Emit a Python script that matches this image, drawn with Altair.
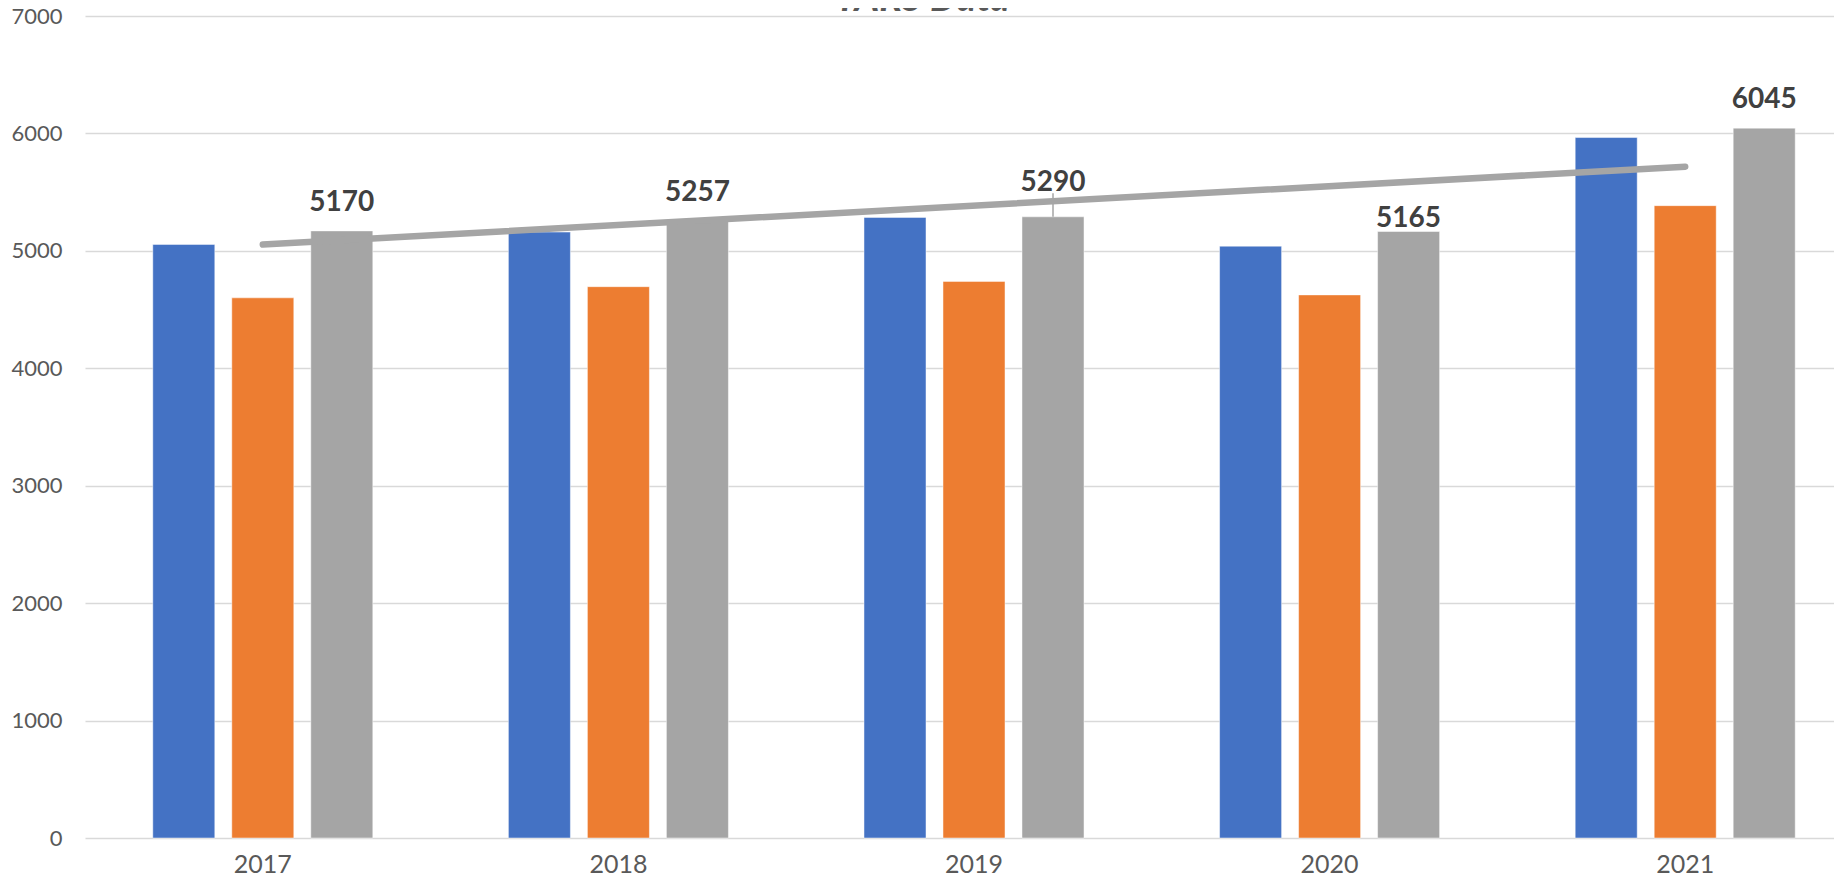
import altair as alt
import pandas as pd

years = ["2017", "2018", "2019", "2020", "2021"]
series_names = ["Series1", "Series2", "Series3"]
series1 = [5055, 5160, 5285, 5040, 5965]
series2 = [4600, 4695, 4740, 4625, 5385]
series3 = [5170, 5257, 5290, 5165, 6045]
colors = ["#4472C4", "#ED7D31", "#A5A5A5"]
y_ticks = [0, 1000, 2000, 3000, 4000, 5000, 6000, 7000]
title_text = "YARS Data"

rows = []
for s, vals in zip(series_names, [series1, series2, series3]):
    for y, v in zip(years, vals):
        rows.append({"year": y, "yr": int(y), "series": s, "value": v})
df = pd.DataFrame(rows)

FONT = "Lato"
W, H = 1749, 822

xscale = alt.Scale(domain=years, range=[0, 1778], paddingInner=0.3335, paddingOuter=0.16675)
xoff_scale = alt.Scale(domain=series_names, paddingInner=0.215, paddingOuter=0.1075)
yscale = alt.Scale(domain=[0, 7000], nice=False, zero=True)

base = alt.Chart(df)

bars = base.mark_bar(stroke="white", strokeWidth=0.8, strokeOpacity=0.6).encode(
    x=alt.X("year:N", scale=xscale, sort=years,
            axis=alt.Axis(title=None, domain=False, ticks=False, grid=False,
                          labelFont=FONT, labelFontSize=25, labelColor="#595959",
                          labelAngle=0, labelBaseline="alphabetic", labelPadding=34)),
    xOffset=alt.XOffset("series:N", scale=xoff_scale, sort=series_names),
    y=alt.Y("value:Q", scale=yscale,
            axis=alt.Axis(title=None, domain=False, ticks=False, values=y_ticks,
                          format="d", labelFont=FONT, labelFontSize=22,
                          labelColor="#595959", labelPadding=23,
                          gridColor="#D9D9D9", gridWidth=1.5,
                          labelBaseline="middle")),
    color=alt.Color("series:N", scale=alt.Scale(domain=series_names, range=colors), legend=None),
)

grey = base.transform_filter(alt.datum.series == "Series3")

leader = grey.transform_filter(alt.datum.year == "2019").transform_calculate(
    top="datum.value + 200"
).mark_rule(color="#A5A5A5", strokeWidth=1.5).encode(
    x=alt.X("year:N", scale=xscale, sort=years),
    xOffset=alt.XOffset("series:N", scale=xoff_scale, sort=series_names),
    y=alt.Y("value:Q", scale=yscale),
    y2="top:Q",
)

trend = grey.transform_regression(
    "yr", "value", method="linear", extent=[2017, 2021]
).transform_calculate(
    year="toString(datum.yr)"
).mark_line(color="#A5A5A5", strokeWidth=6.5, strokeCap="round").encode(
    x=alt.X("year:N", scale=xscale, sort=years),
    y=alt.Y("value:Q", scale=yscale),
)

def labels(yrs, dy):
    return grey.transform_filter(
        alt.FieldOneOfPredicate(field="year", oneOf=yrs)
    ).mark_text(font=FONT, fontSize=28, fontWeight="bold", color="#404040",
                baseline="alphabetic", align="center", dy=dy).encode(
        x=alt.X("year:N", scale=xscale, sort=years),
        xOffset=alt.XOffset("series:N", scale=xoff_scale, sort=series_names),
        y=alt.Y("value:Q", scale=yscale),
        text=alt.Text("value:Q", format="d"),
    )

lab_a = labels(["2017", "2018", "2021"], -20)
lab_b = labels(["2019"], -26)
lab_c = labels(["2020"], -4)

title = alt.Chart(pd.DataFrame({"t": [title_text]})).mark_text(
    font=FONT, fontSize=38, fontWeight="bold", fontStyle="italic", color="#595959",
    baseline="alphabetic", align="center"
).encode(x=alt.value(837), y=alt.value(-5), text="t:N")

chart = alt.layer(bars, leader, trend, lab_a, lab_b, lab_c, title).properties(
    width=W, height=H,
    background="white",
    autosize=alt.AutoSizeParams(type="none"),
    padding={"left": 77, "top": 8, "right": 0, "bottom": 38},
).configure_view(
    strokeWidth=0
).configure_axis(
    domain=False, ticks=False, labelFont=FONT, labelColor="#595959"
).configure_axisX(
    grid=False, labelFontSize=25
).configure_axisY(
    gridColor="#D9D9D9", gridWidth=1.5, labelFontSize=22
)

chart.save("out.html", embed_options={"renderer": "svg", "actions": False})
